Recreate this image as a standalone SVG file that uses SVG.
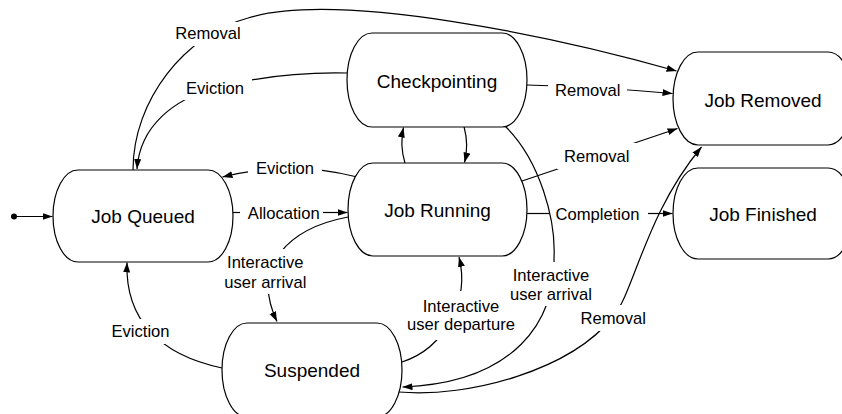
<svg xmlns="http://www.w3.org/2000/svg" width="842" height="414" viewBox="0 0 842 414">
<style>
.node rect{fill:#fff;stroke:#000;stroke-width:1.2}
.node text{font-family:"Liberation Sans",Arial,Helvetica,sans-serif;font-size:19px;fill:#000;text-anchor:middle}
.c{fill:none;stroke:#000;stroke-width:1.2}
.lb rect{fill:#fff;stroke:none}
.lb text{font-family:"Liberation Sans",Arial,Helvetica,sans-serif;font-size:16.6px;fill:#000;text-anchor:middle}
</style>
<defs>
<marker id="ah" markerUnits="userSpaceOnUse" markerWidth="11" markerHeight="8" refX="10" refY="3.5" orient="auto">
<path d="M0,0 L10,3.5 L0,7 z" fill="#000"/>
</marker>
</defs>
<g id="connectors">
<circle cx="14" cy="216.5" r="3" fill="#000"/>
<path class="c" d="M14,216.5 L52.5,216.5" marker-end="url(#ah)"/>
<!-- Job Queued -> Job Removed (Removal) -->
<path class="c" d="M133,170 C133,100 185,35 248,18 C340,-10 560,38 676.5,71" marker-end="url(#ah)"/>
<!-- Checkpointing -> Job Queued (Eviction) -->
<path class="c" d="M347,73 C300,72 260,76 215,88 C175,99 140,125 137,169" marker-end="url(#ah)"/>
<!-- Job Running -> Job Queued (Eviction) -->
<path class="c" d="M355,176.5 Q289,160 222.5,177" marker-end="url(#ah)"/>
<!-- Job Queued -> Job Running (Allocation) -->
<path class="c" d="M233,212.5 L240,212.5"/>
<path class="c" d="M323,212.5 L347.5,212.5" marker-end="url(#ah)"/>
<!-- Job Running -> Checkpointing -->
<path class="c" d="M405,163 Q399.5,145 403.5,127.5" marker-end="url(#ah)"/>
<!-- Checkpointing -> Job Running -->
<path class="c" d="M464,126.5 Q469,145 464.5,162.5" marker-end="url(#ah)"/>
<!-- Checkpointing -> Job Removed (Removal) -->
<path class="c" d="M527,85 Q600,87 672.5,93.5" marker-end="url(#ah)"/>
<!-- Job Running -> Job Removed (Removal) -->
<path class="c" d="M522,181 L677.5,128.5" marker-end="url(#ah)"/>
<!-- Job Running -> Job Finished (Completion) -->
<path class="c" d="M527,213.5 L549,213.5"/>
<path class="c" d="M648,213.5 L672.5,213.5" marker-end="url(#ah)"/>
<!-- Checkpointing -> Suspended (Interactive user arrival) -->
<path class="c" d="M505,126 C540,160 556,220 554,258 C556,320 515,383 402.5,387" marker-end="url(#ah)"/>
<!-- Suspended -> Job Removed (Removal) -->
<path class="c" d="M399,392 C470,398 570,370 613,317 C635,290 645,215 701.5,147" marker-end="url(#ah)"/>
<!-- Job Running -> Suspended (Interactive user arrival) -->
<path class="c" d="M348,217 C290,228 250,265 277,321.5" marker-end="url(#ah)"/>
<!-- Suspended -> Job Running (Interactive user departure) -->
<path class="c" d="M402,362 C445,348 470,300 459,257" marker-end="url(#ah)"/>
<!-- Suspended -> Job Queued (Eviction) -->
<path class="c" d="M222,368 C160,355 125,320 127,262.5" marker-end="url(#ah)"/>
<g class="lb">
<rect x="169" y="22" width="78" height="24"/>
<text x="208" y="39">Removal</text>
<rect x="178" y="74" width="74" height="26"/>
<text x="215" y="93.5">Eviction</text>
<rect x="248" y="157" width="74" height="23"/>
<text x="285" y="174">Eviction</text>
<text x="283.8" y="219">Allocation</text>
<rect x="548" y="78" width="79" height="23"/>
<text x="587.7" y="95.5">Removal</text>
<rect x="557" y="143" width="80" height="26"/>
<text x="596.7" y="161.5">Removal</text>
<text x="597.5" y="219.5">Completion</text>
<rect x="504" y="262" width="94" height="44"/>
<text x="551" y="281">Interactive</text>
<text x="551" y="300">user arrival</text>
<rect x="218" y="249" width="95" height="45"/>
<text x="265.3" y="268.3">Interactive</text>
<text x="265.3" y="287.5">user arrival</text>
<rect x="416" y="291" width="90" height="24"/>
<rect x="401" y="314" width="118" height="26"/>
<text x="461" y="311.5">Interactive</text>
<text x="461" y="330">user departure</text>
<rect x="574" y="305" width="79" height="26"/>
<text x="613.3" y="324">Removal</text>
<rect x="105" y="319" width="71" height="25"/>
<text x="140.5" y="337">Eviction</text>
</g>
</g>
<g id="job-queued" class="node">
<rect x="53" y="170" width="180" height="92" rx="25" ry="46"/>
<text x="143" y="223">Job Queued</text>
</g>
<g id="checkpointing" class="node">
<rect x="347" y="33" width="180" height="94" rx="25" ry="47"/>
<text x="437" y="88">Checkpointing</text>
</g>
<g id="job-running" class="node">
<rect x="348" y="163" width="179" height="93" rx="25" ry="46.5"/>
<text x="437.5" y="216.5">Job Running</text>
</g>
<g id="job-removed" class="node">
<rect x="673" y="52" width="180" height="93" rx="25" ry="46.5"/>
<text x="763" y="106.5">Job Removed</text>
</g>
<g id="job-finished" class="node">
<rect x="673" y="168" width="180" height="91" rx="25" ry="45.5"/>
<text x="763" y="220.5">Job Finished</text>
</g>
<g id="suspended" class="node">
<rect x="222" y="323" width="180" height="94" rx="25" ry="47"/>
<text x="312" y="376.5">Suspended</text>
</g>
</svg>
